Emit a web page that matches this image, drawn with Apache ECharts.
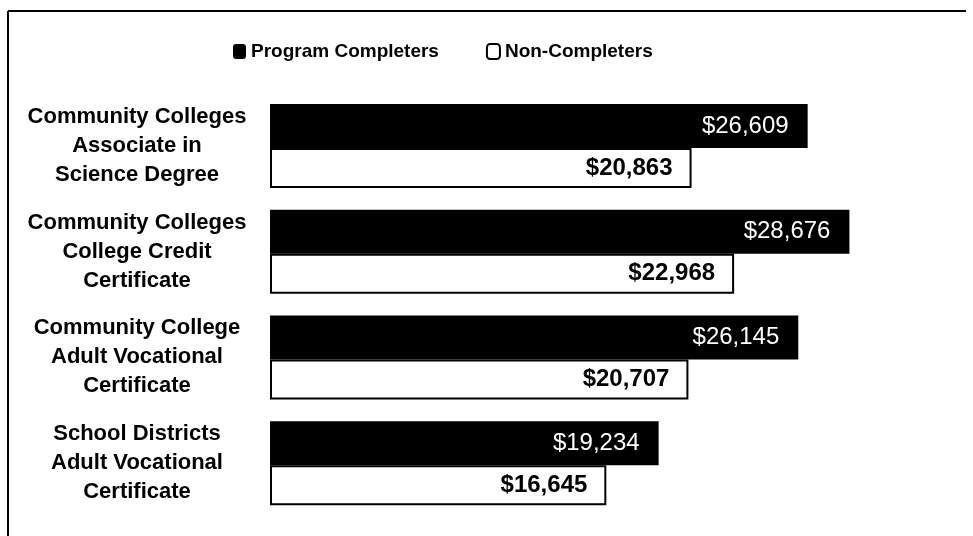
<!DOCTYPE html>
<html>
<head>
<meta charset="utf-8">
<script src="https://cdn.jsdelivr.net/npm/echarts@6/dist/echarts.min.js"></script>
<style>
  html, body { margin: 0; padding: 0; background: #fff; }
  #main { width: 973px; height: 536px; }
</style>
</head>
<body>
<div id="main"></div>
<script>
var categories = [
  'Community Colleges\nAssociate in\nScience Degree',
  'Community Colleges\nCollege Credit\nCertificate',
  'Community College\nAdult Vocational\nCertificate',
  'School Districts\nAdult Vocational\nCertificate'
];
var completers = [26609, 28676, 26145, 19234];
var nonCompleters = [20863, 22968, 20707, 16645];
var seriesNames = ['Program Completers', 'Non-Completers'];

var font = '"Liberation Sans", Arial, sans-serif';
var chart = echarts.init(document.getElementById('main'));

function money(p) {
  return '$' + p.value.toLocaleString('en-US');
}

chart.setOption({
  animation: false,
  textStyle: { fontFamily: font },
  legend: {
    left: 228,
    top: 37,
    itemGap: 47,
    itemWidth: 13,
    itemHeight: 15,
    textStyle: { fontFamily: font, fontSize: 19, fontWeight: 'bold', color: '#000' },
    data: [
      { name: seriesNames[0], icon: 'roundRect', itemStyle: { color: '#000', borderWidth: 0 } },
      { name: seriesNames[1], icon: 'roundRect', itemStyle: { color: '#fff', borderColor: '#000', borderWidth: 2 } }
    ]
  },
  grid: { left: 270, top: 93, width: 687, height: 423 },
  xAxis: {
    type: 'value',
    min: 0,
    max: 34000,
    show: false
  },
  yAxis: {
    type: 'category',
    inverse: true,
    data: categories,
    axisLine: { show: false },
    axisTick: { show: false },
    axisLabel: {
      align: 'center',
      margin: 133,
      fontFamily: font,
      fontSize: 22,
      fontWeight: 'bold',
      lineHeight: 29,
      color: '#000'
    }
  },
  series: [
    {
      name: seriesNames[0],
      type: 'bar',
      data: completers,
      barWidth: 44,
      barGap: '0%',
      itemStyle: { color: '#000' },
      label: {
        show: true,
        position: 'insideRight',
        distance: 19,
        color: '#fff',
        fontFamily: font,
        fontSize: 24,
        formatter: money
      }
    },
    {
      name: seriesNames[1],
      type: 'bar',
      data: nonCompleters,
      barWidth: 40,
      itemStyle: { color: '#fff', borderColor: '#000', borderWidth: 2 },
      label: {
        show: true,
        position: 'insideRight',
        distance: 19,
        color: '#000',
        fontFamily: font,
        fontSize: 24,
        fontWeight: 'bold',
        formatter: money
      }
    }
  ],
  graphic: [
    { type: 'line', shape: { x1: 8, y1: 11, x2: 966, y2: 11 }, style: { stroke: '#000', lineWidth: 2 } },
    { type: 'line', shape: { x1: 8, y1: 11, x2: 8, y2: 536 }, style: { stroke: '#000', lineWidth: 2 } }
  ]
});
</script>
</body>
</html>
